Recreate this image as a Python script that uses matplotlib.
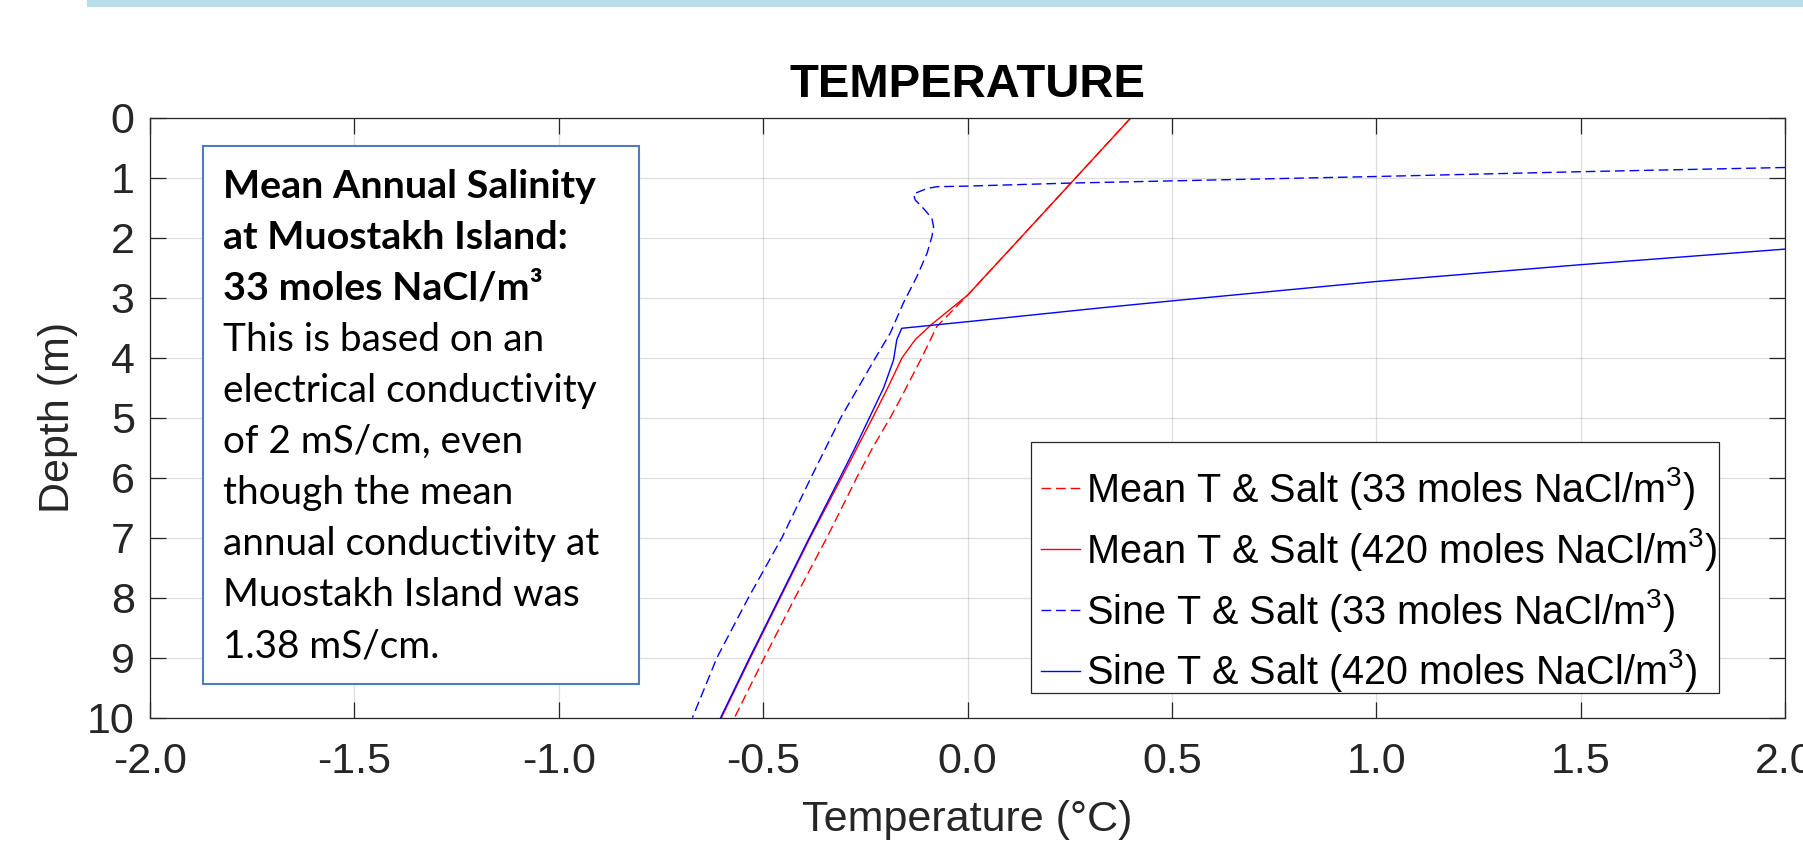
import matplotlib
matplotlib.use("Agg")
import matplotlib.pyplot as plt
from matplotlib.patches import Rectangle

plt.rcParams['font.family'] = ['Liberation Sans', 'DejaVu Sans']
plt.rcParams['axes.unicode_minus'] = False
plt.rcParams['mathtext.fontset'] = 'custom'
plt.rcParams['mathtext.rm'] = 'Liberation Sans'

# ---------------- data (temperature in degC, depth in m) ----------------
mean33_depth = [0.0, 1.0, 2.0, 2.96, 3.48, 4.0, 4.7, 5.0, 5.5, 6.0, 7.0, 8.0, 9.0, 10.0]
mean33_temp = [0.40, 0.265, 0.13, 0.0, -0.075, -0.112, -0.165, -0.189, -0.232, -0.271, -0.344, -0.422, -0.497, -0.570]

mean420_depth = [0.0, 1.0, 2.0, 2.96, 3.44, 3.7, 4.0, 4.5, 5.0, 5.5, 6.0, 7.0, 8.0, 9.0, 10.0]
mean420_temp = [0.40, 0.265, 0.13, 0.0, -0.087, -0.128, -0.16, -0.195, -0.232, -0.27, -0.308, -0.385, -0.458, -0.531, -0.602]

sine33_depth = [0.83, 0.90, 0.98, 1.05, 1.09, 1.14, 1.15, 1.18, 1.27, 1.37, 1.54, 1.68, 1.82, 1.98,
                2.26, 2.65, 3.09, 3.59, 4.0, 5.0, 6.0, 7.0, 8.0, 9.0, 10.0]
sine33_temp = [2.0, 1.5, 1.0, 0.52, 0.25, 0.0, -0.075, -0.099, -0.132, -0.128, -0.104, -0.087, -0.083, -0.087,
               -0.099, -0.124, -0.157, -0.189, -0.225, -0.31, -0.383, -0.454, -0.536, -0.613, -0.673]

sine420_depth = [2.19, 2.45, 2.73, 3.04, 3.17, 3.40, 3.51, 3.7, 4.04, 4.5, 5.0, 5.5, 6.0, 7.0, 8.0, 9.0, 10.0]
sine420_temp = [2.0, 1.5, 1.0, 0.52, 0.325, 0.0, -0.161, -0.173, -0.181, -0.205, -0.24, -0.275, -0.312, -0.387, -0.46, -0.533, -0.604]

labels = [r'Mean T & Salt (33 moles NaCl/$\mathregular{m^3}$)',
          r'Mean T & Salt (420 moles NaCl/$\mathregular{m^3}$)',
          r'Sine T & Salt (33 moles NaCl/$\mathregular{m^3}$)',
          r'Sine T & Salt (420 moles NaCl/$\mathregular{m^3}$)']

x_ticks = [-2.0, -1.5, -1.0, -0.5, 0.0, 0.5, 1.0, 1.5, 2.0]
x_ticklabels = ['-2.0', '-1.5', '-1.0', '-0.5', '0.0', '0.5', '1.0', '1.5', '2.0']
y_ticks = [0, 1, 2, 3, 4, 5, 6, 7, 8, 9, 10]

note_bold = ['Mean Annual Salinity', 'at Muostakh Island:', '33 moles NaCl/m\u00b3']
note_regular = ['This is based on an', 'electrical conductivity', 'of 2 mS/cm, even',
                'though the mean', 'annual conductivity at', 'Muostakh Island was', '1.38 mS/cm.']

# ---------------- figure ----------------
W, H = 1803, 846
fig = plt.figure(figsize=(W / 100, H / 100), dpi=100)
fig.patch.set_facecolor('white')

# top band
fig.patches.append(Rectangle((87 / W, 1 - 7 / H), 1 - 87 / W, 7 / H, transform=fig.transFigure,
                             facecolor='#B7DDE8', edgecolor='none', zorder=0))

ax = fig.add_axes([150 / W, 1 - 717.7 / H, 1635 / W, 600 / H])
axc = '#262626'
dash = (7, 3.5)
ax.plot(mean33_temp, mean33_depth, color='#FF0000', lw=1.0, ls=(0, dash), label=labels[0])
ax.plot(mean420_temp, mean420_depth, color='#FF0000', lw=1.0, ls='-', label=labels[1])
ax.plot(sine33_temp, sine33_depth, color='#0000FF', lw=1.0, ls=(0, dash), label=labels[2])
ax.plot(sine420_temp, sine420_depth, color='#0000FF', lw=1.0, ls='-', label=labels[3])

ax.set_xlim(-2.0, 2.0)
ax.set_ylim(10, 0)
ax.set_xticks(x_ticks)
ax.set_xticklabels(x_ticklabels)
ax.set_yticks(y_ticks)
ax.grid(True, color=axc, alpha=0.15, lw=0.9)
ax.set_axisbelow(True)
for s in ax.spines.values():
    s.set_color(axc)
    s.set_linewidth(0.9)
ax.tick_params(axis='both', direction='in', length=11.5, width=0.9, colors=axc,
               top=True, right=True, labelsize=31)
ax.tick_params(axis='x', pad=17.5)
ax.tick_params(axis='y', pad=11)
ax.set_xlabel('Temperature (\u00b0C)', fontsize=31, color=axc, labelpad=13)
ax.set_ylabel('Depth (m)', fontsize=31, color=axc, labelpad=6.5)
ax.set_title('TEMPERATURE', fontsize=34, fontweight='bold', pad=15)

# legend frame (drawn separately so the text rows can sit as in the reference)
ax.add_patch(Rectangle((1031 / W, 1 - 693 / H), 688 / W, 251.3 / H, transform=fig.transFigure,
                       facecolor='white', edgecolor=axc, lw=0.9, zorder=4))
leg = ax.legend(loc='upper left', bbox_to_anchor=(1031 / W, 1 - 455 / H),
                bbox_transform=fig.transFigure, borderaxespad=0, fontsize=28.5,
                frameon=False, borderpad=0.25, handlelength=1.0, handletextpad=0.15,
                labelspacing=0.35)
leg.set_zorder(6)

# annotation box
fig.patches.append(Rectangle((202.5 / W, 1 - 684 / H), 436 / W, 538 / H, transform=fig.transFigure,
                             facecolor='white', edgecolor='#4A7EC0', lw=1.5, zorder=5))
lines = [(t, 'bold', 28.4) for t in note_bold] + [(t, 'normal', 27.9) for t in note_regular]
for i, (t, wgt, fs) in enumerate(lines):
    yb = 197.5 + 51.1 * i
    fig.text(223 / W, 1 - yb / H, t, fontsize=fs, fontweight=wgt, family=['Lato', 'DejaVu Sans'],
             va='baseline', ha='left', color='black', zorder=6)

fig.savefig('out.png', dpi=100)
